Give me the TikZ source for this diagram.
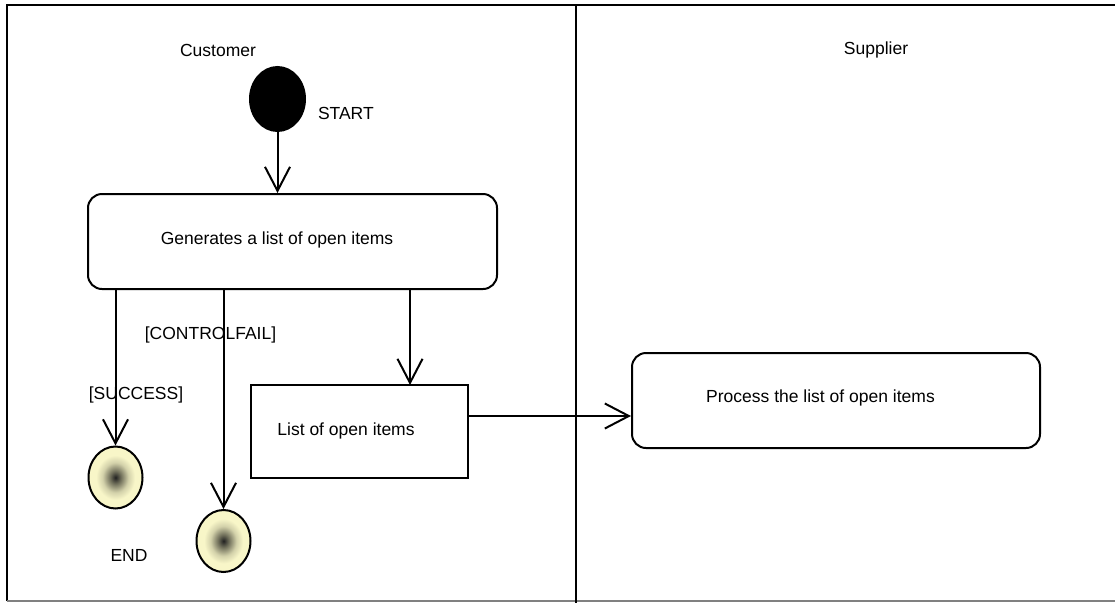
\documentclass[tikz,border=0pt]{standalone}
\usepackage{fontspec}
\setmainfont{Liberation Sans}
\usetikzlibrary{arrows.meta,shapes.geometric}
\definecolor{endfill}{HTML}{F8F6C8}
\definecolor{endcore}{HTML}{202020}
% final-state gradient: dark core fading into pale yellow
\pgfdeclareradialshading{endshade}{\pgfpoint{0bp}{0bp}}{%
  color(0bp)=(endcore); color(5bp)=(black!55!endfill);
  color(12bp)=(black!15!endfill); color(18bp)=(endfill); color(50bp)=(endfill)}
\begin{document}
\begin{tikzpicture}[x=1pt,y=-1pt,
  line width=2pt,
  lbl/.style={font=\fontsize{17.5}{20}\selectfont, inner sep=0pt},
  flow/.style={-{Straight Barb[length=24pt,width=25pt,line width=2pt]}},
  action/.style={draw, rounded corners=14pt, inner sep=0pt},
  artifact/.style={draw, inner sep=0pt},
  initial/.style={draw, fill=black, ellipse, inner sep=0pt, minimum width=55pt, minimum height=64pt},
  final/.style={draw, ellipse, inner sep=0pt, minimum width=54pt, minimum height=62pt,
    shading=endshade},
]
\useasboundingbox (0,0) rectangle (1115,603);

% swimlane frame
\draw[line width=2.6pt] (7,601) -- (7,5) -- (1115,5);
\draw[gray, line width=1.2pt] (7,601) -- (1115,601);
\draw[line width=2.2pt] (576,5) -- (576,603);
\node[lbl] (laneC) at (218,50) {Customer};
\node[lbl] (laneS) at (876,50) {Supplier};

% nodes
\node[initial] (start) at (277.5,99) {};
\node[lbl, anchor=west] (startlbl) at (317,113) {START};

\node[action, minimum width=409pt, minimum height=95pt] (box1) at (292.5,241.5) {};
\node[lbl] (box1txt) at (277,240) {Generates a list of open items};

\node[artifact, minimum width=217pt, minimum height=93pt] (box2) at (359.5,431.5) {};
\node[lbl] (box2txt) at (346,431) {List of open items};

\node[action, minimum width=408pt, minimum height=95pt] (box3) at (836,400.5) {};
\node[lbl] (box3txt) at (820.5,398) {Process the list of open items};

\node[final] (end1) at (115.5,477.5) {};
\node[final] (end2) at (223.5,541) {};
\node[lbl] (endlbl) at (129,555) {END};

\node[lbl] (cf) at (210.5,335) {[CONTROLFAIL]};
\node[lbl] (succ) at (136,395) {[SUCCESS]};

% connectors
\coordinate (b2in) at (410,385);
\coordinate (linky) at (0,416);
\draw[flow] (start.south) -- (start.south |- box1.north);
\draw[flow] (end1.north |- box1.south) -- (end1.north);
\draw[flow] (end2.north |- box1.south) -- (end2.north);
\draw[flow] (b2in |- box1.south) -- (b2in);
\draw[flow] (box2.east |- linky) -- (box3.west |- linky);
\end{tikzpicture}
\end{document}
